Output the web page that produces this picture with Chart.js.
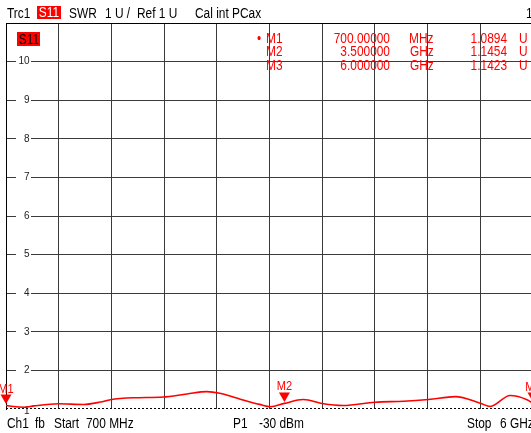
<!DOCTYPE html>
<html><head><meta charset="utf-8">
<script src="https://cdn.jsdelivr.net/npm/chart.js@4/dist/chart.umd.min.js"></script>
<style>
html,body{margin:0;padding:0;background:#fff;overflow:hidden;}
#wrap{position:relative;width:531px;height:433px;overflow:hidden;background:#fff;}
#c{position:absolute;left:0;top:0;}
.t{position:absolute;font-family:'Liberation Sans',Arial,sans-serif;font-size:14px;line-height:14px;white-space:nowrap;color:#000;transform:scaleX(0.85);transform-origin:0 0;}
.r{color:#f00;}
.ra{text-align:right;transform-origin:100% 0;}
.box{position:absolute;background:#f00;}
.box span{position:absolute;left:0;right:0;top:0;text-align:center;font-family:'Liberation Sans',Arial,sans-serif;font-size:14px;line-height:13px;white-space:nowrap;transform:scaleX(0.85);}
</style></head><body>
<div id="wrap">
<canvas id="c" width="540" height="433"></canvas>
<!-- header -->
<div class="t" style="left:7px;top:5.5px">Trc1</div>
<div class="box" style="left:37px;top:6px;width:24px;height:13px"><span style="color:#fff">S11</span></div>
<div class="t" style="left:69px;top:5.5px">SWR</div>
<div class="t" style="left:105px;top:5.5px">1 U /</div>
<div class="t" style="left:137px;top:5.5px">Ref 1 U</div>
<div class="t" style="left:195px;top:5.5px">Cal int PCax</div>
<div class="t" style="left:526px;top:5.5px">1</div>
<!-- trace label inside plot -->
<div class="box" style="left:17px;top:32px;width:23px;height:14px"><span style="color:#000;top:1px">S11</span></div>
<!-- marker table -->
<div class="t r" style="left:257px;top:30.5px">•</div>
<div class="t r" style="left:266px;top:30.5px">M1</div>
<div class="t r ra" style="left:300px;width:90px;top:30.5px">700.00000</div>
<div class="t r" style="left:409px;top:30.5px">MHz</div>
<div class="t r ra" style="left:440px;width:67px;top:30.5px">1.0894</div>
<div class="t r" style="left:519px;top:30.5px">U</div>
<div class="t r" style="left:266px;top:44px">M2</div>
<div class="t r ra" style="left:300px;width:90px;top:44px">3.500000</div>
<div class="t r" style="left:410px;top:44px">GHz</div>
<div class="t r ra" style="left:440px;width:67px;top:44px">1.1454</div>
<div class="t r" style="left:519px;top:44px">U</div>
<div class="t r" style="left:266px;top:57.5px">M3</div>
<div class="t r ra" style="left:300px;width:90px;top:57.5px">6.000000</div>
<div class="t r" style="left:410px;top:57.5px">GHz</div>
<div class="t r ra" style="left:440px;width:67px;top:57.5px">1.1423</div>
<div class="t r" style="left:519px;top:57.5px">U</div>
<!-- footer -->
<div class="t" style="left:7px;top:415.5px">Ch1</div>
<div class="t" style="left:35px;top:415.5px">fb</div>
<div class="t" style="left:54px;top:415.5px">Start</div>
<div class="t" style="left:86px;top:415.5px">700 MHz</div>
<div class="t" style="left:233px;top:415.5px">P1</div>
<div class="t" style="left:259px;top:415.5px">-30 dBm</div>
<div class="t" style="left:467px;top:415.5px">Stop</div>
<div class="t" style="left:500px;top:415.5px">6 GHz</div>
</div>
<script>
// ---- data ----
const freqGHz   = [0.70, 0.75, 0.89, 0.98, 1.23, 1.48, 1.65, 1.75, 1.98, 2.28, 2.52, 2.72, 2.85, 3.05, 3.25, 3.36, 3.50, 3.69, 3.89, 4.09, 4.41, 4.70, 4.95, 5.22, 5.47, 5.57, 5.77, 5.94, 6.00];
const swrValues = [1.0894, 1.07, 1.047, 1.08, 1.135, 1.117, 1.18, 1.24, 1.29, 1.31, 1.39, 1.45, 1.41, 1.26, 1.12, 1.06, 1.1454, 1.246, 1.135, 1.09, 1.176, 1.20, 1.246, 1.32, 1.15, 1.065, 1.35, 1.24, 1.1423];
const markerNames   = ['M1', 'M2', 'M3'];
const markerFreqGHz = [0.7, 3.5, 6.0];
const markerSWR     = [1.0894, 1.1454, 1.1423];
const yTickValues = [1, 2, 3, 4, 5, 6, 7, 8, 9, 10];
const yTickLabels = ['1', '2', '3', '4', '5', '6', '7', '8', '9', '10'];
const refLevel = 1;
const startGHz = 0.7, stopGHz = 6.0, xDivisions = 10;
const yMin = 1, yMax = 11;

const xGrid = [];
for (let k = 0; k <= xDivisions; k++) xGrid.push(startGHz + k * (stopGHz - startGHz) / xDivisions);
const yGrid = [];
for (let v = yMin; v <= yMax; v++) yGrid.push(v);

const tickLabelPlugin = {
  id: 'tickLabels',
  beforeDatasetsDraw(chart) {
    const ctx = chart.ctx, y = chart.scales.y, a = chart.chartArea;
    ctx.save();
    // dashed reference line
    const ry = Math.round(y.getPixelForValue(refLevel)) - 0.5;
    ctx.strokeStyle = '#000';
    ctx.lineWidth = 1;
    ctx.setLineDash([2, 2]);
    ctx.beginPath();
    ctx.moveTo(a.left, ry);
    ctx.lineTo(a.right, ry);
    ctx.stroke();
    ctx.setLineDash([]);
    ctx.font = '10px "Liberation Sans", Arial, sans-serif';
    ctx.textAlign = 'right';
    ctx.textBaseline = 'middle';
    yTickValues.forEach((v, i) => {
      const py = y.getPixelForValue(v);
      if (v > yMin) { ctx.fillStyle = '#fff'; ctx.fillRect(16, py - 2, 15, 4); }
      ctx.fillStyle = '#222';
      ctx.fillText(yTickLabels[i], 29.5, v === yMin ? py + 2 : py);
    });
    ctx.restore();
  }
};

const markerPlugin = {
  id: 'markers',
  afterDatasetsDraw(chart) {
    const ctx = chart.ctx, x = chart.scales.x, y = chart.scales.y;
    ctx.save();
    ctx.fillStyle = '#ff0000';
    ctx.font = '13px "Liberation Sans", Arial, sans-serif';
    ctx.textAlign = 'center';
    ctx.textBaseline = 'alphabetic';
    markerNames.forEach((name, i) => {
      const px = x.getPixelForValue(markerFreqGHz[i]);
      const py = y.getPixelForValue(markerSWR[i]);
      ctx.beginPath();
      ctx.moveTo(px, py - 1.5);
      ctx.lineTo(px - 5.5, py - 11);
      ctx.lineTo(px + 5.5, py - 11);
      ctx.closePath();
      ctx.fill();
      ctx.save();
      ctx.translate(px, py - 13);
      ctx.scale(0.85, 1);
      ctx.fillText(name, 0, 0);
      ctx.restore();
    });
    ctx.restore();
  }
};

new Chart(document.getElementById('c'), {
  type: 'line',
  data: {
    datasets: [{
      data: freqGHz.map((f, i) => ({ x: f, y: swrValues[i] })),
      borderColor: '#ff0000',
      borderWidth: 1.6,
      pointRadius: 0,
      cubicInterpolationMode: 'monotone',
      fill: false
    }]
  },
  options: {
    responsive: false,
    animation: false,
    events: [],
    layout: { padding: { left: 6, top: 23, right: 7, bottom: 24 } },
    plugins: { legend: { display: false }, tooltip: { enabled: false } },
    scales: {
      x: {
        type: 'linear', min: startGHz, max: stopGHz,
        afterBuildTicks: s => { s.ticks = xGrid.map(v => ({ value: v })); },
        ticks: { display: false },
        grid: { drawTicks: false, lineWidth: 1, color: c => (c.index === 0 ? '#000' : '#3a3a3a') },
        border: { display: false }
      },
      y: {
        min: yMin, max: yMax,
        afterBuildTicks: s => { s.ticks = yGrid.map(v => ({ value: v })); },
        ticks: { display: false },
        grid: { drawTicks: false, lineWidth: 1, color: c => (c.tick.value === yMin ? 'rgba(0,0,0,0)' : (c.tick.value === yMax ? '#000' : '#3a3a3a')) },
        border: { display: true, color: '#000', width: 1 }
      }
    }
  },
  plugins: [tickLabelPlugin, markerPlugin]
});
</script>
</body></html>
